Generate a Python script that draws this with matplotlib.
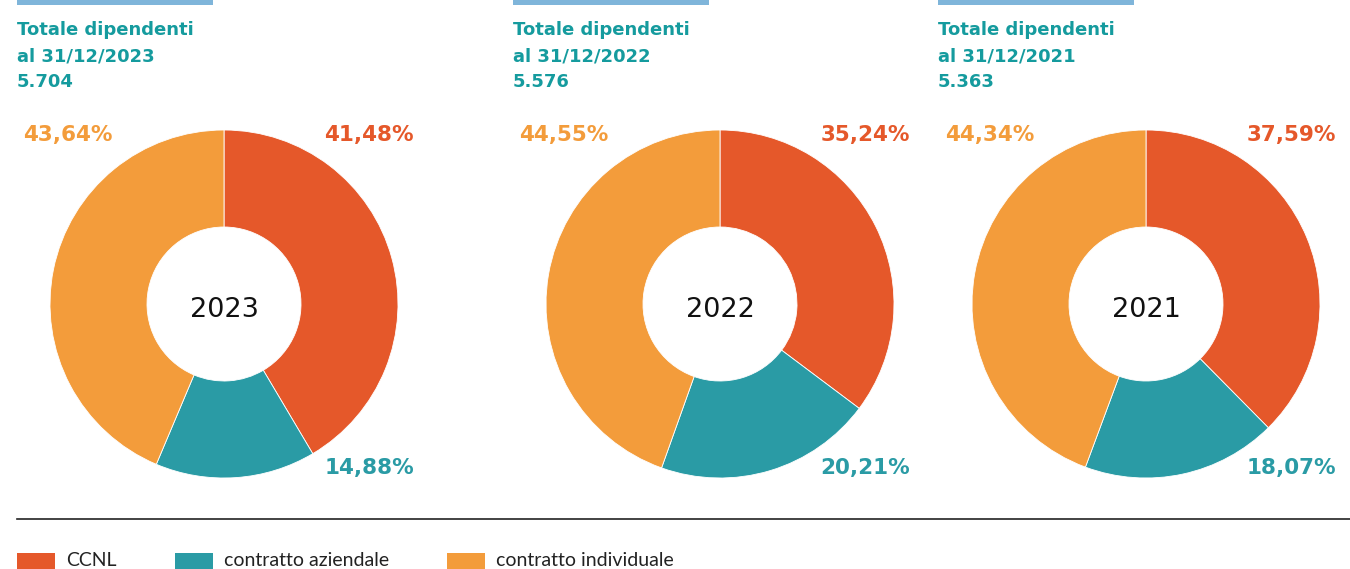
import matplotlib
matplotlib.use("Agg")
import matplotlib.pyplot as plt
from matplotlib.patches import Rectangle

years = ["2023", "2022", "2021"]
totals = ["5.704", "5.576", "5.363"]
categories = ["CCNL", "contratto aziendale", "contratto individuale"]
ccnl = [41.48, 35.24, 37.59]
aziendale = [14.88, 20.21, 18.07]
individuale = [43.64, 44.55, 44.34]

colors = ["#E5582A", "#2A9BA5", "#F39C3B"]
title_color = "#159B9E"
bar_color = "#7FB5DA"
head_font = "DejaVu Sans"

W, H = 1350, 569
fig = plt.figure(figsize=(W / 100, H / 100), dpi=100)
ax = fig.add_axes([0, 0, 1, 1])
ax.set_axis_off()

def fmt(v):
    return f"{v:.2f}".replace(".", ",") + "%"

centers_x = [224, 720, 1146]
title_x = [17, 513, 938]
cy = H - 304
R = 174
r_in = 77

for i, year in enumerate(years):
    vals = [ccnl[i], aziendale[i], individuale[i]]
    ax.pie(vals, colors=colors, center=(centers_x[i], cy), radius=R,
           startangle=90, counterclock=False, frame=True,
           wedgeprops=dict(width=R - r_in, edgecolor="white", linewidth=0.6))
    ax.text(centers_x[i], cy - 6, year, ha="center", va="center",
            fontsize=19.5, family="DejaVu Sans", color="#111111")
    # header bar and title
    ax.add_patch(Rectangle((title_x[i], H - 5), 196, 5, color=bar_color, lw=0))
    for k, line in enumerate(["Totale dipendenti", f"al 31/12/{year}", totals[i]]):
        ax.text(title_x[i], H - 30 - 26 * k, line, ha="left", va="center",
                fontsize=13, fontweight="bold", family=head_font, color=title_color)
    # percentage labels
    ax.text(centers_x[i] - 201, H - 135, fmt(individuale[i]), ha="left", va="center",
            fontsize=15.5, fontweight="bold", family=head_font, color=colors[2])
    ax.text(centers_x[i] + 190, H - 135, fmt(ccnl[i]), ha="right", va="center",
            fontsize=15.5, fontweight="bold", family=head_font, color=colors[0])
    ax.text(centers_x[i] + 190, H - 468, fmt(aziendale[i]), ha="right", va="center",
            fontsize=15.5, fontweight="bold", family=head_font, color=colors[1])

# separator line
ax.plot([17, 1350], [H - 519, H - 519], color="#222222", lw=1.2)

# legend
leg_x = [17, 175, 447]
for x, c, lab in zip(leg_x, colors, categories):
    ax.add_patch(Rectangle((x, H - 569), 38, 16, color=c, lw=0))
    ax.text(x + 49, H - 561, lab, ha="left", va="center",
            fontsize=14, family="Lato", color="#222222")

ax.set_xlim(0, W)
ax.set_ylim(0, H)
ax.set_aspect("equal")
fig.savefig("out.png", dpi=100)
